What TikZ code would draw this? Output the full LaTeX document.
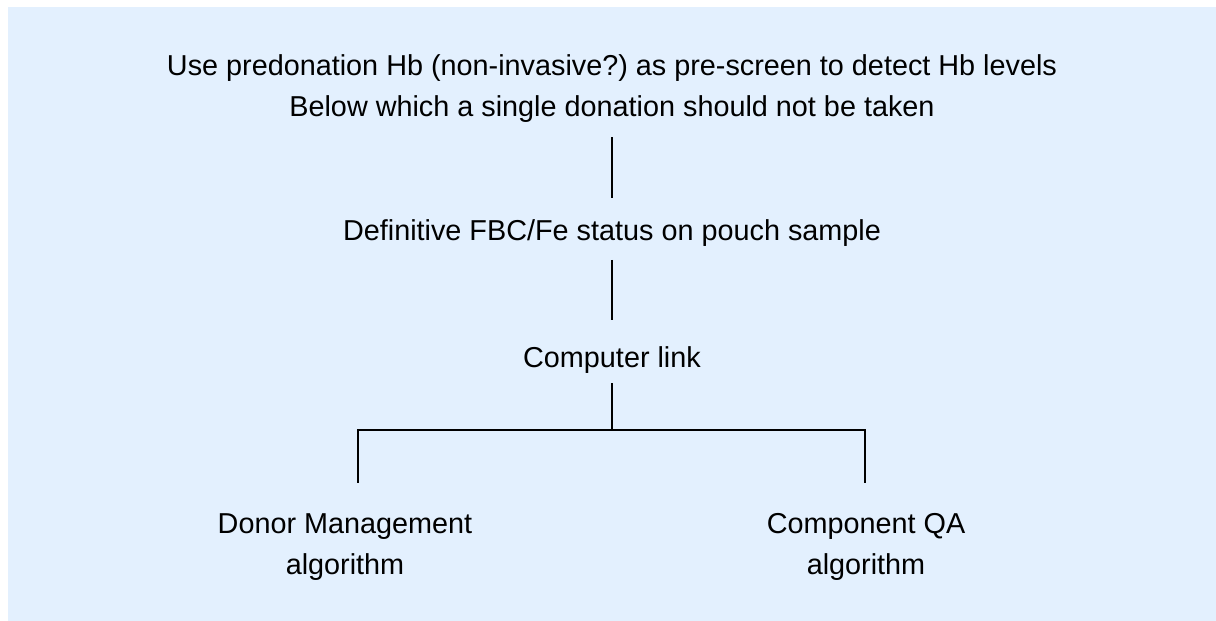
\documentclass[tikz,border=0pt]{standalone}
\usepackage{fontspec}
\setmainfont{Liberation Sans}
\frenchspacing
\definecolor{bgblue}{RGB}{227,240,254}
\tikzset{
  lbl/.style={inner sep=0pt, outer sep=0pt, anchor=base, align=center,
    font=\fontsize{28.8}{41}\selectfont\frenchspacing},
  conn/.style={draw=black, line width=1.8pt}
}
\begin{document}
\begin{tikzpicture}[x=1pt,y=1pt]
\useasboundingbox (0,0) rectangle (1216,-621);
\fill[bgblue] (8,-7) rectangle (1216,-621);

\node[lbl] (top) at (612,-116.7) {Use predonation Hb (non-invasive?) as pre-screen to detect Hb levels\\Below which a single donation should not be taken};
\node[lbl] (fbc) at (612,-240) {Definitive FBC/Fe status on pouch sample};
\node[lbl] (comp) at (612,-367) {Computer link};
\node[lbl] (dm) at (345,-574.3) {Donor Management\\algorithm};
\node[lbl] (qa) at (866,-574.3) {Component QA\\algorithm};

\coordinate (jc) at (612,-430);
\coordinate (jl) at (357.7,-430);
\coordinate (jr) at (865,-430);
\coordinate (el) at (357.7,-482.5);
\coordinate (er) at (865,-482.5);

\draw[conn] ([yshift=-14.5pt]top.south) -- ([yshift=20.7pt]fbc.north);
\draw[conn] ([yshift=-14pt]fbc.south) -- ([yshift=26pt]comp.north);
\draw[conn] ([yshift=-10.3pt]comp.south) -- (jc);
\draw[conn] (el) -- (jl) -- (jr) -- (er);
\end{tikzpicture}
\end{document}
